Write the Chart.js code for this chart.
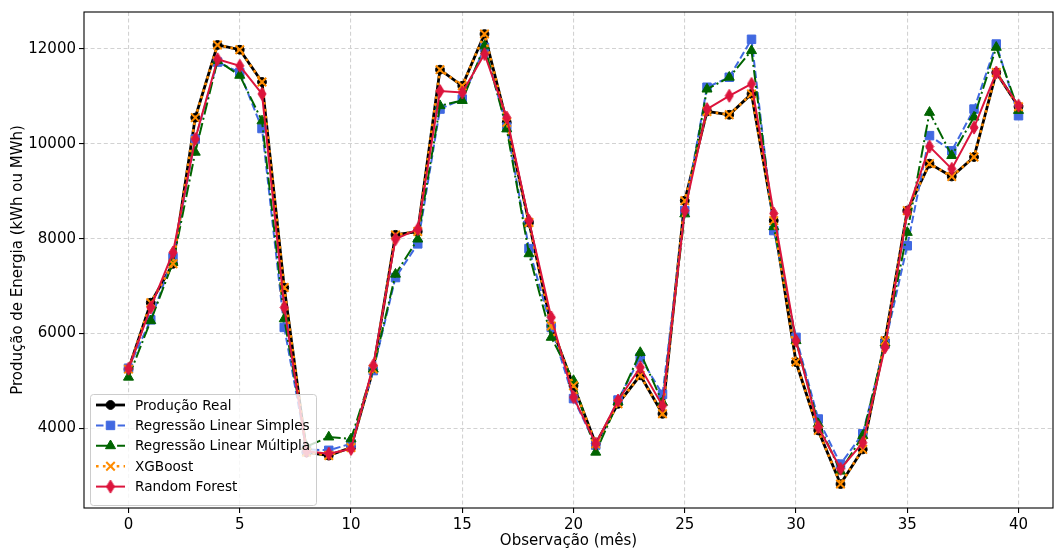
<!DOCTYPE html>
<html>
<head>
<meta charset="utf-8">
<script src="https://cdn.jsdelivr.net/npm/chart.js@4.4.1/dist/chart.umd.min.js"></script>
<style>
    html, body { margin: 0; padding: 0; background: #fff; }
    #wrap { width: 1054px; height: 552px; }
</style>
</head>
<body>
<div id="wrap"><canvas id="energyChart" width="1054" height="552"></canvas></div>
<script>
'use strict'

// Observação (mês)
const observations = [0, 1, 2, 3, 4, 5, 6, 7, 8, 9, 10, 11, 12, 13, 14, 15, 16, 17, 18, 19, 20,
    21, 22, 23, 24, 25, 26, 27, 28, 29, 30, 31, 32, 33, 34, 35, 36, 37, 38, 39, 40];

const producaoReal = [5250, 6650, 7470, 10550, 12080, 11980, 11300, 6970, 3500, 3430, 3600,
    5250, 8080, 8150, 11560, 11220, 12310, 10450, 8340, 6160, 4900,
    3680, 4520, 5120, 4310, 8800, 10680, 10610, 11050, 8380, 5400,
    3960, 2830, 3560, 5850, 8590, 9580, 9310, 9720, 11500, 10780];

const linearSimples = [5270, 6290, 7600, 10100, 11720, 11500, 10320, 6130, 3560, 3540, 3680,
    5220, 7180, 7890, 10730, 10940, 12030, 10350, 7790, 6130, 4630,
    3650, 4600, 5500, 4720, 8590, 11190, 11400, 12200, 8170, 5920,
    4200, 3250, 3890, 5780, 7850, 10170, 9850, 10730, 12100, 10590];

const linearMultipla = [5080, 6270, 7500, 9820, 11750, 11440, 10480, 6310, 3620, 3820, 3780,
    5250, 7250, 7990, 10800, 10910, 12060, 10310, 7680, 5920, 5010,
    3500, 4560, 5600, 4550, 8520, 11150, 11400, 11960, 8250, 5850,
    4100, 3100, 3850, 5800, 8130, 10660, 9750, 10560, 12030, 10700];

const xgboost = [5250, 6650, 7470, 10550, 12080, 11980, 11300, 6970, 3500, 3430, 3600,
    5250, 8080, 8150, 11560, 11220, 12310, 10450, 8340, 6160, 4900,
    3680, 4520, 5120, 4310, 8800, 10680, 10610, 11050, 8380, 5400,
    3960, 2830, 3560, 5850, 8590, 9580, 9310, 9720, 11500, 10780];

const randomForest = [5260, 6550, 7710, 10100, 11780, 11640, 11050, 6550, 3520, 3470, 3570,
    5330, 7990, 8200, 11110, 11080, 11890, 10550, 8380, 6340, 4660,
    3680, 4590, 5290, 4480, 8590, 10730, 11010, 11260, 8530, 5850,
    4030, 3150, 3700, 5710, 8560, 9940, 9470, 10340, 11500, 10800];

const xTickValues = [0, 5, 10, 15, 20, 25, 30, 35, 40];
const yTickValues = [4000, 6000, 8000, 10000, 12000];

const FAMILY = "'DejaVu Sans', sans-serif";
const AXIS_FONT = { family: FAMILY, size: 15 };
const LEGEND_FONT_SIZE = 13.6;

// matplotlib style thin diamond ('d') as a small canvas
function thinDiamond(color, w, h) {
    const c = document.createElement('canvas');
    c.width = w + 2;
    c.height = h + 2;
    const g = c.getContext('2d');
    g.fillStyle = color;
    g.strokeStyle = color;
    g.lineWidth = 1;
    g.beginPath();
    g.moveTo(c.width / 2, 1);
    g.lineTo(c.width - 1, c.height / 2);
    g.lineTo(c.width / 2, c.height - 1);
    g.lineTo(1, c.height / 2);
    g.closePath();
    g.fill();
    g.stroke();
    return c;
}

const toPoints = values => observations.map((x, i) => ({ x: x, y: values[i] }));

const series = [
    { label: 'Produção Real', data: producaoReal, color: '#000000', width: 2.8, dash: [],
        style: 'circle', radius: 4.4, order: 5 },
    { label: 'Regressão Linear Simples', data: linearSimples, color: '#4169E1', width: 2, dash: [7.5, 3.3],
        style: 'rect', radius: 6, order: 4 },
    { label: 'Regressão Linear Múltipla', data: linearMultipla, color: '#006400', width: 2, dash: [12.5, 3.3, 2, 3.3],
        style: 'triangle', radius: 5.8, order: 3 },
    { label: 'XGBoost', data: xgboost, color: '#FF8C00', width: 2.6, dash: [2.6, 4.3],
        style: 'crossRot', radius: 6, order: 2 },
    { label: 'Random Forest', data: randomForest, color: '#DC143C', width: 2, dash: [],
        style: thinDiamond('#DC143C', 8, 13), radius: 6, order: 1 }
];

const frameAndLegend = {
    id: 'frameAndLegend',
    afterDraw(chart) {
        const ctx = chart.ctx;
        const a = chart.chartArea;

        // axes box
        ctx.save();
        ctx.strokeStyle = '#000';
        ctx.lineWidth = 1.1;
        ctx.strokeRect(a.left, a.top, a.right - a.left, a.bottom - a.top);
        ctx.restore();

        // legend, lower left
        const bx = 90, by = 394, bw = 226, bh = 111;
        ctx.save();
        ctx.fillStyle = 'rgba(255,255,255,0.8)';
        ctx.strokeStyle = '#cccccc';
        ctx.lineWidth = 1;
        ctx.beginPath();
        ctx.roundRect(bx + 0.5, by + 0.5, bw, bh, 3);
        ctx.fill();
        ctx.stroke();

        ctx.font = LEGEND_FONT_SIZE + 'px ' + FAMILY;
        ctx.textBaseline = 'middle';
        ctx.textAlign = 'left';
        series.forEach((s, i) => {
            const y = by + 11 + i * 20.4;
            ctx.strokeStyle = s.color;
            ctx.fillStyle = s.color;
            ctx.lineWidth = s.width;
            ctx.setLineDash(s.dash);
            ctx.beginPath();
            ctx.moveTo(96, y);
            ctx.lineTo(125, y);
            ctx.stroke();
            ctx.setLineDash([]);
            ctx.lineWidth = s.style === 'crossRot' ? 2 : 1;
            Chart.helpers.drawPoint(ctx, {
                pointStyle: s.style, radius: s.radius, rotation: 0,
                borderWidth: ctx.lineWidth
            }, 110.5, y);
            ctx.fillStyle = '#000';
            ctx.fillText(s.label, 135, y + 1);
        });
        ctx.restore();
    }
};

const gridStyle = {
    color: '#d2d2d2',
    lineWidth: 1.1,
    tickColor: '#000',
    tickLength: 5,
    tickWidth: 1.1,
    tickBorderDash: []
};

new Chart(document.querySelector('#energyChart'), {
    type: 'line',
    data: {
        datasets: series.map(s => ({
            label: s.label,
            data: toPoints(s.data),
            borderColor: s.color,
            backgroundColor: s.color,
            borderWidth: s.width,
            borderDash: s.dash,
            pointStyle: s.style,
            pointRadius: s.radius,
            pointBackgroundColor: s.color,
            pointBorderColor: s.color,
            pointBorderWidth: s.style === 'crossRot' ? 2 : 1,
            tension: 0,
            fill: false,
            order: s.order
        }))
    },
    options: {
        responsive: false,
        animation: false,
        devicePixelRatio: 1,
        layout: { autoPadding: false, padding: { top: 11, right: 1, left: 0, bottom: 0 } },
        plugins: {
            legend: { display: false },
            tooltip: { enabled: false }
        },
        scales: {
            x: {
                type: 'linear',
                min: -2,
                max: 41.55,
                afterBuildTicks: scale => {
                    scale.ticks = xTickValues.map(v => ({ value: v }));
                },
                afterFit: scale => { scale.height = 44; },
                ticks: { font: AXIS_FONT, color: '#000', padding: 3, maxRotation: 0, callback: v => String(v) },
                grid: gridStyle,
                border: { display: false, dash: [4, 2.6] },
                title: { display: true, text: 'Observação (mês)', font: AXIS_FONT, color: '#000',
                    padding: { top: 0, bottom: 2 } }
            },
            y: {
                type: 'linear',
                min: 2325,
                max: 12775,
                afterBuildTicks: scale => {
                    scale.ticks = yTickValues.map(v => ({ value: v }));
                },
                afterFit: scale => { scale.width = 84; },
                ticks: { font: AXIS_FONT, color: '#000', padding: 3, callback: v => String(v) },
                grid: gridStyle,
                border: { display: false, dash: [4, 2.6] },
                title: { display: true, text: 'Produção de Energia (kWh ou MWh)', font: AXIS_FONT, color: '#000',
                    padding: { top: 9, bottom: 0 } }
            }
        }
    },
    plugins: [frameAndLegend]
});
</script>
</body>
</html>
